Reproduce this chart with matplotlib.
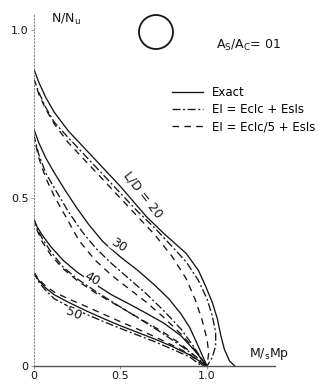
import matplotlib
matplotlib.use("Agg")
import matplotlib.pyplot as plt
from matplotlib.patches import Ellipse

plt.rcParams['font.family'] = ['DejaVu Sans']
plt.rcParams['mathtext.default'] = 'regular'

# ---- data ----
ld_labels = ["L/D = 20", "30", "40", "50"]

exact_x = [
    [0, 0.03, 0.07, 0.12, 0.2, 0.3, 0.4, 0.5, 0.6, 0.65, 0.75, 0.88, 0.95, 0.99, 1.03, 1.06, 1.08, 1.10, 1.13, 1.16],
    [0, 0.03, 0.07, 0.12, 0.18, 0.25, 0.32, 0.4, 0.5, 0.6, 0.7, 0.78, 0.85, 0.9, 0.94, 0.97, 1.0],
    [0, 0.02, 0.05, 0.1, 0.17, 0.25, 0.35, 0.45, 0.55, 0.65, 0.75, 0.85, 0.93, 1.0],
    [0, 0.03, 0.07, 0.12, 0.2, 0.3, 0.4, 0.5, 0.6, 0.7, 0.8, 0.9, 0.97, 1.0],
]
exact_y = [
    [0.887, 0.845, 0.80, 0.755, 0.70, 0.645, 0.59, 0.535, 0.475, 0.445, 0.395, 0.335, 0.285, 0.24, 0.19, 0.14, 0.09, 0.05, 0.015, 0.0],
    [0.708, 0.665, 0.62, 0.575, 0.525, 0.47, 0.42, 0.37, 0.325, 0.285, 0.24, 0.20, 0.155, 0.115, 0.07, 0.035, 0.0],
    [0.44, 0.415, 0.39, 0.355, 0.315, 0.28, 0.245, 0.212, 0.185, 0.157, 0.128, 0.09, 0.045, 0.0],
    [0.28, 0.255, 0.232, 0.212, 0.19, 0.165, 0.142, 0.12, 0.10, 0.08, 0.058, 0.033, 0.01, 0.0],
]

full_x = [
    [0, 0.03, 0.07, 0.12, 0.2, 0.3, 0.4, 0.5, 0.6, 0.7, 0.8, 0.88, 0.95, 1.0, 1.03, 1.05, 1.05, 1.03, 1.0],
    [0, 0.03, 0.07, 0.12, 0.2, 0.28, 0.36, 0.45, 0.55, 0.65, 0.75, 0.85, 0.92, 0.97, 1.0],
    [0, 0.02, 0.05, 0.1, 0.17, 0.25, 0.35, 0.45, 0.55, 0.65, 0.75, 0.85, 0.93, 1.0],
    [0, 0.03, 0.07, 0.12, 0.2, 0.3, 0.4, 0.5, 0.6, 0.7, 0.8, 0.9, 0.97],
]
full_y = [
    [0.857, 0.815, 0.77, 0.725, 0.68, 0.625, 0.57, 0.515, 0.46, 0.41, 0.355, 0.31, 0.255, 0.20, 0.15, 0.10, 0.06, 0.025, 0.0],
    [0.69, 0.63, 0.575, 0.53, 0.46, 0.40, 0.35, 0.305, 0.26, 0.215, 0.165, 0.11, 0.06, 0.02, 0.0],
    [0.44, 0.41, 0.38, 0.34, 0.295, 0.26, 0.225, 0.192, 0.16, 0.128, 0.095, 0.06, 0.03, 0.0],
    [0.28, 0.25, 0.225, 0.20, 0.178, 0.155, 0.133, 0.112, 0.092, 0.072, 0.05, 0.027, 0.0],
]

fifth_x = [
    [0, 0.03, 0.07, 0.12, 0.2, 0.3, 0.4, 0.5, 0.6, 0.7, 0.8, 0.88, 0.93, 0.97, 1.0, 1.01, 1.0],
    [0, 0.03, 0.07, 0.12, 0.18, 0.26, 0.355, 0.45, 0.55, 0.65, 0.75, 0.85, 0.92, 0.97, 1.0],
    [0, 0.02, 0.05, 0.1, 0.17, 0.25, 0.35, 0.45, 0.55, 0.65, 0.75, 0.85, 0.93, 0.99],
    [0, 0.03, 0.07, 0.12, 0.2, 0.3, 0.4, 0.5, 0.6, 0.7, 0.8, 0.9, 0.98],
]
fifth_y = [
    [0.857, 0.81, 0.765, 0.72, 0.665, 0.61, 0.555, 0.50, 0.445, 0.39, 0.325, 0.26, 0.20, 0.14, 0.08, 0.04, 0.0],
    [0.69, 0.62, 0.56, 0.505, 0.45, 0.375, 0.315, 0.27, 0.23, 0.19, 0.145, 0.095, 0.055, 0.02, 0.0],
    [0.44, 0.405, 0.37, 0.33, 0.29, 0.255, 0.22, 0.19, 0.16, 0.13, 0.10, 0.065, 0.03, 0.0],
    [0.28, 0.258, 0.238, 0.22, 0.20, 0.178, 0.155, 0.132, 0.11, 0.087, 0.062, 0.035, 0.0],
]

label_pos = [(0.63, 0.51), (0.49, 0.36), (0.34, 0.26), (0.23, 0.155)]
label_rot = [-52, -32, -30, -22]

x_ticks = [0, 0.5, 1.0]
x_ticklabels = ["0", "0.5", "1.0"]
y_ticks = [0, 0.5, 1.0]
y_ticklabels = ["0", "0.5", "1.0"]

# ---- figure ----
W, H = 332, 384
fig = plt.figure(figsize=(W / 100, H / 100), dpi=100)
x0px, y0px = 33.5, 366
sx, sy = 173.5, 336
ax = fig.add_axes([x0px / W, (H - y0px) / H, (W - x0px) / W, y0px / H])
ax.set_xlim(0, (W - x0px) / sx)
ax.set_ylim(0, y0px / sy)

col = '#151515'
lw = 0.95
full_ls = (0, (6, 2, 1.5, 2))
fifth_ls = (0, (5, 4))

for i in range(4):
    ax.plot(exact_x[i], exact_y[i], color=col, lw=lw, ls='-',
            label="Exact" if i == 0 else None)
    ax.plot(full_x[i], full_y[i], color=col, lw=lw, ls=full_ls,
            label="EI = EcIc + EsIs" if i == 0 else None)
    ax.plot(fifth_x[i], fifth_y[i], color=col, lw=lw, ls=fifth_ls,
            label="EI = EcIc/5 + EsIs" if i == 0 else None)
    ax.text(label_pos[i][0], label_pos[i][1], ld_labels[i], rotation=label_rot[i],
            fontsize=9, ha='center', va='center', color=col,
            bbox=dict(facecolor='white', edgecolor='none', pad=0.3))

for s in ['top', 'right']:
    ax.spines[s].set_visible(False)
ax.spines['left'].set_bounds(0, 1.05)
ax.spines['left'].set_linestyle((0, (1, 2)))
ax.spines['left'].set_color('#888888')
ax.spines['left'].set_linewidth(0.8)
ax.spines['bottom'].set_bounds(0, 1.39)
ax.spines['bottom'].set_color('#555555')
ax.spines['bottom'].set_linewidth(1.0)

ax.set_xticks(x_ticks)
ax.set_xticklabels(x_ticklabels)
ax.set_yticks(y_ticks)
ax.set_yticklabels(y_ticklabels)
ax.tick_params(axis='both', length=2, width=0.6, color='#888888',
               labelsize=8, labelcolor=col, pad=1.5)

ax.text(0.10, 1.03, "N/N$_u$", fontsize=9, ha='left', va='center', color=col)
ax.text(1.24, 0.035, "M/$_s$Mp", fontsize=9, ha='left', va='center', color=col)
ax.text(1.05, 0.955, "A$_S$/A$_C$= 01", fontsize=9, ha='left', va='center', color=col)
ax.add_patch(Ellipse((0.706, 0.994), 34 / sx, 34 / sy, fill=False,
                     edgecolor=col, lw=1.3))

ax.legend(loc='upper left', bbox_to_anchor=(172 / W, 1 - 86 / H),
          bbox_transform=fig.transFigure, frameon=False, fontsize=8.5,
          handlelength=2.6, handletextpad=0.8, labelspacing=0.35,
          borderpad=0, borderaxespad=0)

fig.savefig("out.png", dpi=100, facecolor='white')
